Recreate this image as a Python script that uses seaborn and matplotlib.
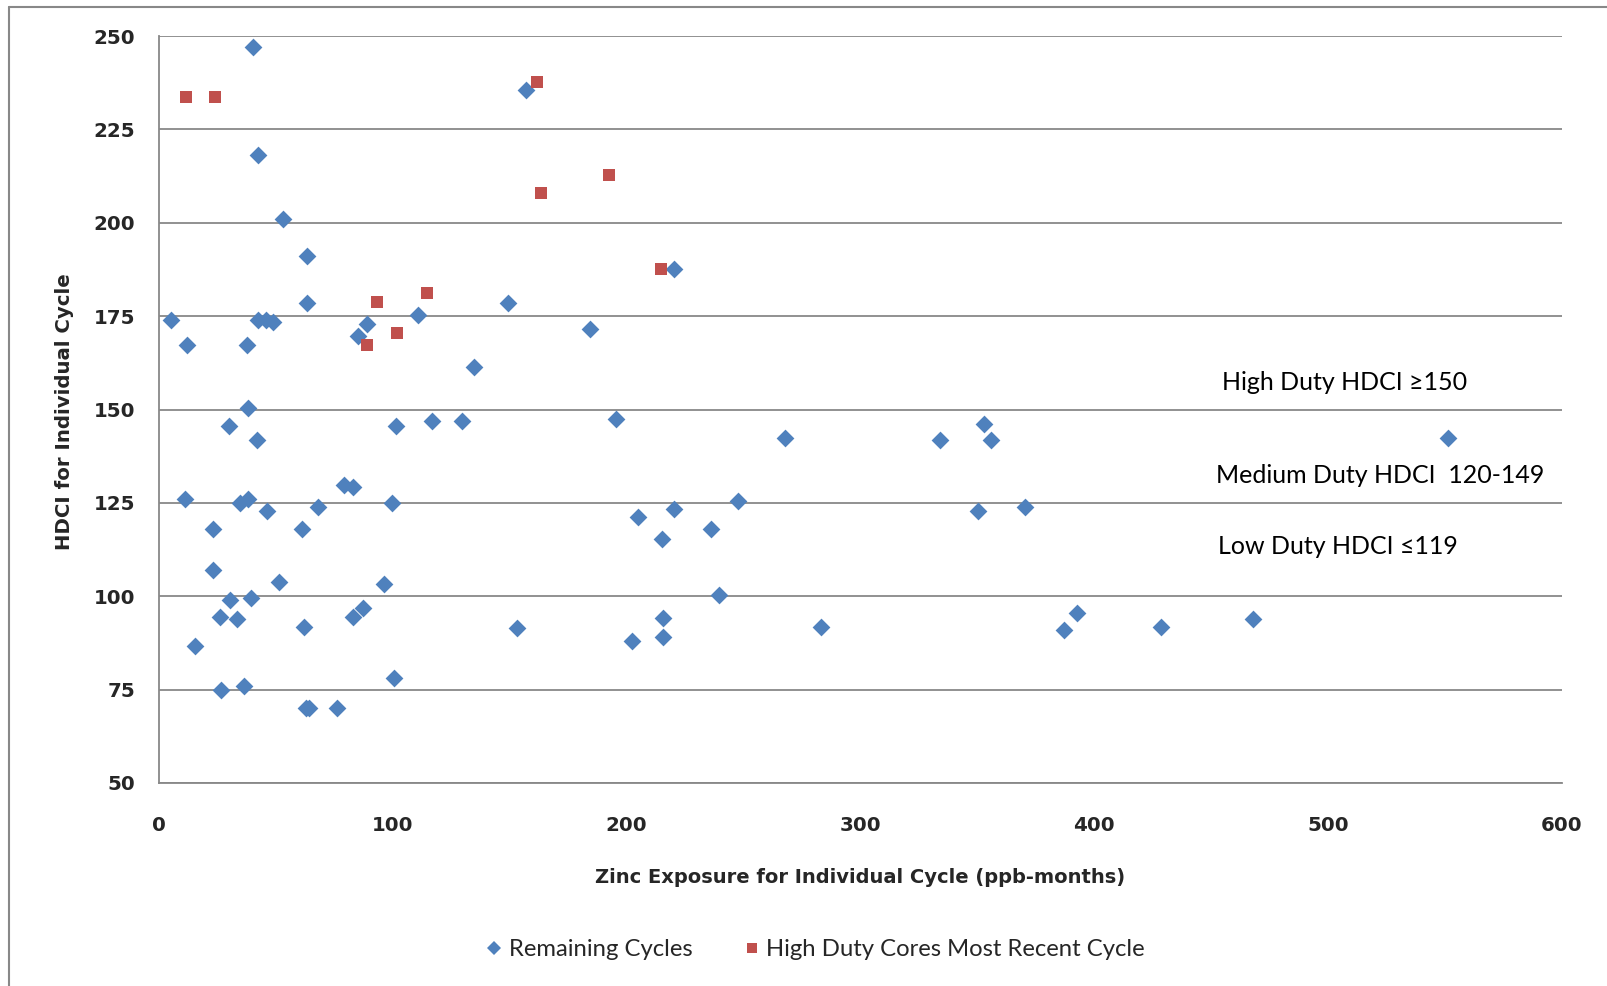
import matplotlib
matplotlib.use("Agg")
import matplotlib.pyplot as plt
from matplotlib.lines import Line2D
import seaborn as sns
import pandas as pd

BLUE = "#4F81BD"
RED = "#C0504D"
GRID = "#888888"
BOLD_FONT = ["DejaVu Sans"]

# Remaining Cycles
remaining_x = [
    40.1, 42.5, 52.9, 63.2, 63.2, 5.1, 42.5, 45.8, 48.9, 11.8, 37.5, 85.2, 88.8,
    110.9, 149.4, 134.7, 184.3, 220.4, 157.0,
    38.2, 30.1, 41.8, 101.4, 116.9, 129.7, 195.5, 267.9, 334.2, 352.9, 355.6, 551.3,
    11.0, 34.6, 38.2, 46.0, 68.1, 79.2, 83.1, 99.8, 23.0, 61.3, 204.7, 220.3,
    215.0, 236.0, 247.5, 350.4, 370.2,
    23.0, 30.4, 39.2, 51.2, 96.4, 26.1, 33.2, 62.1, 83.1, 87.1, 15.4, 26.4, 36.5,
    62.8, 64.0, 76.0, 100.6, 152.9, 202.4, 215.7, 215.7, 239.6, 282.9, 387.2,
    392.6, 428.6, 467.9,
]
remaining_y = [
    247.0, 218.2, 201.1, 191.1, 178.4, 174.0, 174.0, 174.0, 173.4, 167.3, 167.3, 169.6, 172.9,
    175.4, 178.4, 161.4, 171.6, 187.5, 235.6,
    150.5, 145.7, 141.9, 145.7, 146.8, 146.8, 147.5, 142.5, 141.9, 146.1, 141.9, 142.5,
    126.0, 125.0, 126.0, 122.8, 123.8, 129.7, 129.2, 125.0, 118.0, 118.0, 121.2, 123.4,
    115.4, 118.1, 125.4, 122.8, 123.9,
    106.9, 99.0, 99.6, 103.7, 103.2, 94.5, 94.0, 91.9, 94.5, 96.9, 86.7, 74.9, 76.0,
    70.2, 70.0, 70.1, 78.2, 91.4, 88.1, 94.1, 89.1, 100.3, 91.8, 90.9,
    95.6, 91.8, 94.0,
]

# High Duty Cores Most Recent Cycle
high_duty_x = [11.4, 24.0, 161.8, 163.4, 192.5, 214.7, 93.4, 114.8, 101.9, 88.8]
high_duty_y = [233.6, 233.6, 237.8, 207.9, 212.8, 187.5, 178.7, 181.3, 170.6, 167.4]

x_ticks = [0, 100, 200, 300, 400, 500, 600]
y_ticks = [50, 75, 100, 125, 150, 175, 200, 225, 250]

band_labels = ["High Duty HDCI \u2265150", "Medium Duty HDCI  120-149", "Low Duty HDCI \u2264119"]
band_label_x = [454.5, 452.0, 453.0]
band_label_y = [157.3, 132.2, 113.2]

remaining = pd.DataFrame({"zinc": remaining_x, "hdci": remaining_y})
high_duty = pd.DataFrame({"zinc": high_duty_x, "hdci": high_duty_y})

sns.set_style("white")
plt.rcParams["font.family"] = ["Lato", "DejaVu Sans"]

fig = plt.figure(figsize=(16.08, 9.86), dpi=100)
ax = fig.add_axes([159 / 1608, 1 - 783 / 986, (1562 - 159) / 1608, (783 - 36) / 986])

sns.scatterplot(data=remaining, x="zinc", y="hdci", marker="D", s=82, color=BLUE,
                linewidth=0, ax=ax, zorder=3)
sns.scatterplot(data=high_duty, x="zinc", y="hdci", marker="s", s=78, color=RED,
                linewidth=0, ax=ax, zorder=4)

ax.set_xlim(0, 600)
ax.set_ylim(50, 250)
ax.set_xticks(x_ticks)
ax.set_yticks(y_ticks)
ax.grid(axis="y", color=GRID, linewidth=1.3)
ax.grid(axis="x", visible=False)
ax.set_axisbelow(True)

for side in ["top", "right"]:
    ax.spines[side].set_visible(False)
for side in ["left", "bottom"]:
    ax.spines[side].set_color(GRID)
    ax.spines[side].set_linewidth(1.3)

ax.tick_params(axis="y", direction="out", length=6, width=1.3, color=GRID, pad=11,
               labelsize=14.3)
ax.tick_params(axis="x", direction="out", length=6, width=1.3, color=GRID, pad=18,
               labelsize=14.3)
for lbl in ax.get_xticklabels() + ax.get_yticklabels():
    lbl.set_fontweight("bold")
    lbl.set_family(BOLD_FONT)

ax.set_xlabel("Zinc Exposure for Individual Cycle (ppb-months)", fontsize=14.0,
              fontweight="bold", family=BOLD_FONT)
ax.set_ylabel("HDCI for Individual Cycle", fontsize=14.2, fontweight="bold",
              family=BOLD_FONT)
ax.xaxis.label.set_va("center")
ax.yaxis.label.set_va("center")
ax.xaxis.set_label_coords(0.5, -0.127)
ax.yaxis.set_label_coords(-0.0675, 0.497)

for text, x, y in zip(band_labels, band_label_x, band_label_y):
    ax.text(x, y, text, fontsize=18, ha="left", va="center", color="black")

handles = [
    Line2D([], [], marker="D", color=BLUE, linestyle="", markersize=7, markeredgewidth=0,
           label="Remaining Cycles"),
    Line2D([], [], marker="s", color=RED, linestyle="", markersize=7, markeredgewidth=0,
           label="High Duty Cores Most Recent Cycle"),
]
fig.legend(handles=handles, loc="center", bbox_to_anchor=(0.506, 1 - 950 / 986), ncol=2,
           frameon=False, fontsize=17.2, handletextpad=0.1, columnspacing=2.0,
           handlelength=1.0)

# outer chart border (only top and left edges are visible in the crop)
fig.add_artist(Line2D([9 / 1608, 1], [1 - 7 / 986, 1 - 7 / 986], color=GRID, linewidth=1.5))
fig.add_artist(Line2D([9 / 1608, 9 / 1608], [0, 1 - 7 / 986], color=GRID, linewidth=1.5))

fig.savefig("out.png", dpi=100)
